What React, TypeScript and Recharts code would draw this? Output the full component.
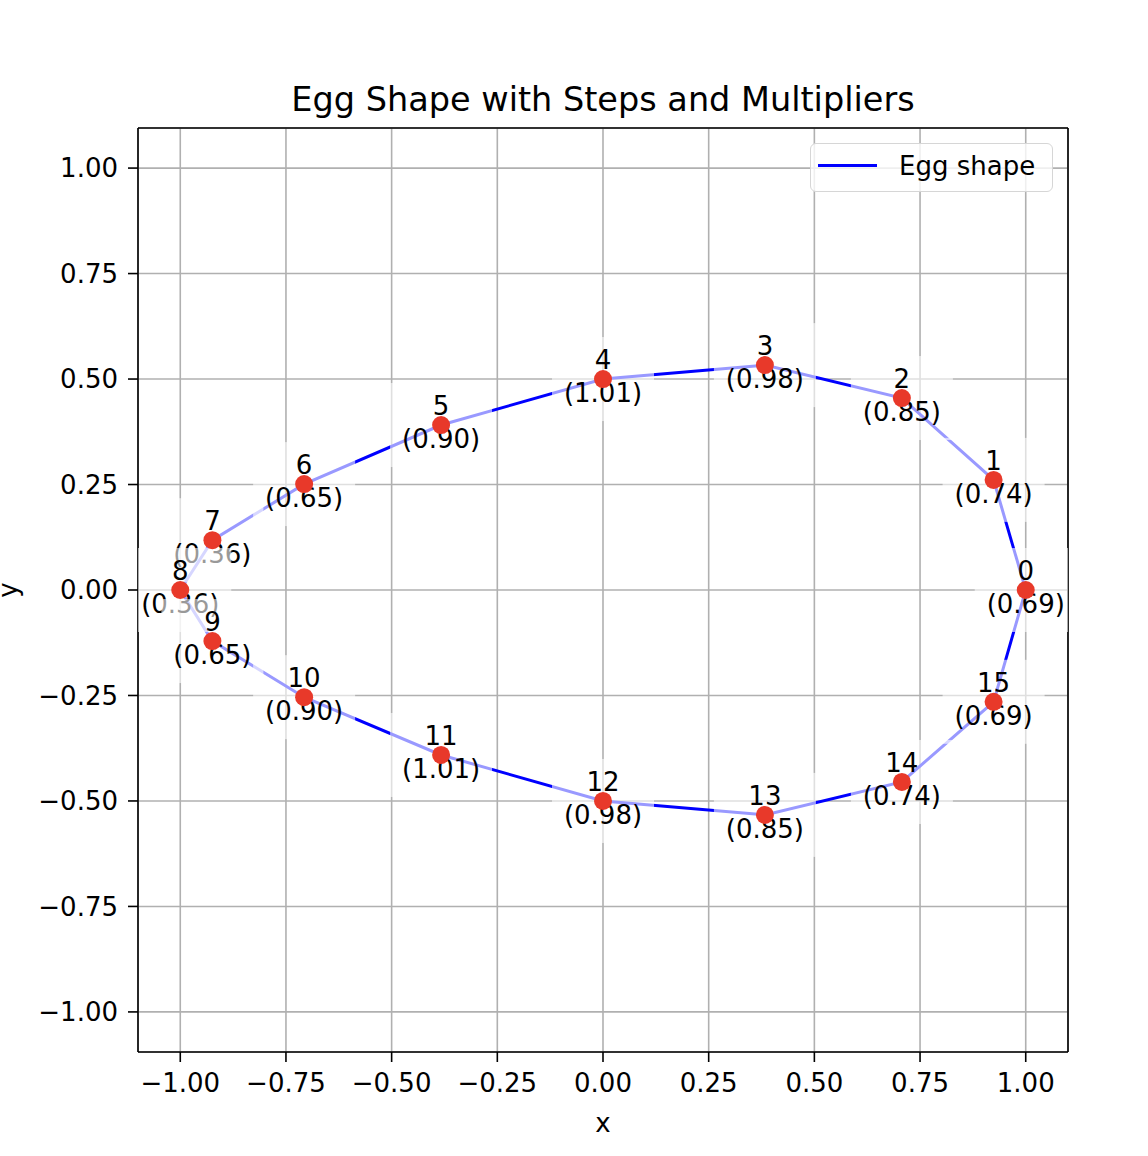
import { ScatterChart, Scatter, XAxis, YAxis, CartesianGrid, ReferenceLine } from "recharts";

// punkte der eiform, index = schritt
const steps = [0, 1, 2, 3, 4, 5, 6, 7, 8, 9, 10, 11, 12, 13, 14, 15];
const xs = [1.0, 0.924, 0.707, 0.383, 0.0, -0.383, -0.707, -0.924, -1.0, -0.924, -0.707, -0.383, 0.0, 0.383, 0.707, 0.924];
const ys = [0.0, 0.261, 0.455, 0.533, 0.5, 0.391, 0.251, 0.118, 0.0, -0.121, -0.254, -0.391, -0.5, -0.533, -0.455, -0.265];
const multipliers = [0.69, 0.74, 0.85, 0.98, 1.01, 0.9, 0.65, 0.36, 0.36, 0.65, 0.9, 1.01, 0.98, 0.85, 0.74, 0.69];
const ticks = [-1.0, -0.75, -0.5, -0.25, 0.0, 0.25, 0.5, 0.75, 1.0];

const X_DOMAIN: [number, number] = [-1.1, 1.1];
const Y_DOMAIN: [number, number] = [-1.095, 1.095];

const FONT = "DejaVu Sans";
const fmt = (v: number) => v.toFixed(2).replace("-", "\u2212");

const points = steps.map((s, i) => ({ step: s, x: xs[i], y: ys[i], m: multipliers[i] }));
// geschlossene kurve: erster punkt nochmal ans ende
const loop = [...points, points[0]];

function LabelShape(props: any) {
  const { cx, cy, payload } = props;
  if (cx == null || cy == null) return <g />;
  return (
    <g>
      <rect x={cx - 51} y={cy - 42} width={102} height={84} fill="#ffffff" fillOpacity={0.6} />
      <text x={cx} y={cy - 19} textAnchor="middle" dominantBaseline="central" fontSize={26} fill="#000">
        {payload.step}
      </text>
      <text x={cx} y={cy + 14} textAnchor="middle" dominantBaseline="central" fontSize={26} fill="#000">
        ({payload.m.toFixed(2)})
      </text>
    </g>
  );
}

function DotShape(props: any) {
  const { cx, cy } = props;
  if (cx == null || cy == null) return <g />;
  return <circle cx={cx} cy={cy} r={9} fill="#e8392a" />;
}

function LegendBox() {
  return (
    <div
      style={{
        position: "absolute",
        left: 810,
        top: 143,
        width: 243,
        height: 49,
        border: "1.6px solid #d6d6d6",
        borderRadius: 6,
        background: "rgba(255,255,255,0.8)",
        boxSizing: "border-box",
        fontFamily: FONT,
        fontSize: 26,
      }}
    >
      <div style={{ position: "absolute", left: 7, top: 20, width: 59, height: 3, background: "#0000ff" }} />
      <div style={{ position: "absolute", left: 88, top: 5, lineHeight: "34px" }}>Egg shape</div>
    </div>
  );
}

export default function App() {
  return (
    <div
      style={{
        position: "absolute",
        left: 0,
        top: 0,
        width: 1148,
        height: 1156,
        background: "#fff",
        fontFamily: FONT,
        overflow: "hidden",
      }}
    >
      <div
        style={{
          position: "absolute",
          left: 103,
          width: 1000,
          top: 80,
          textAlign: "center",
          fontSize: 33.5,
          lineHeight: "40px",
        }}
      >
        Egg Shape with Steps and Multipliers
      </div>
      <div style={{ position: "absolute", left: 583, width: 40, top: 1106, textAlign: "center", fontSize: 26, lineHeight: "34px" }}>
        x
      </div>
      <div
        style={{
          position: "absolute",
          left: -12,
          top: 573,
          width: 40,
          textAlign: "center",
          fontSize: 26,
          lineHeight: "34px",
          transform: "rotate(-90deg)",
        }}
      >
        y
      </div>
      <ScatterChart width={1148} height={1156} margin={{ top: 128, right: 80, left: 0, bottom: 0 }}>
        <CartesianGrid stroke="#b0b0b0" strokeWidth={1.6} />
        <XAxis
          type="number"
          dataKey="x"
          domain={X_DOMAIN}
          ticks={ticks}
          tickFormatter={fmt}
          height={104}
          tickSize={10}
          tickMargin={12}
          allowDataOverflow
          axisLine={{ stroke: "#000", strokeWidth: 1.6 }}
          tickLine={{ stroke: "#000", strokeWidth: 1.6 }}
          tick={{ fill: "#000", fontSize: 26 }}
        />
        <YAxis
          type="number"
          dataKey="y"
          domain={Y_DOMAIN}
          ticks={ticks}
          tickFormatter={fmt}
          width={138}
          tickSize={10}
          tickMargin={10}
          allowDataOverflow
          axisLine={{ stroke: "#000", strokeWidth: 1.6 }}
          tickLine={{ stroke: "#000", strokeWidth: 1.6 }}
          tick={{ fill: "#000", fontSize: 26 }}
        />
        <ReferenceLine y={Y_DOMAIN[1]} stroke="#000" strokeWidth={1.6} />
        <ReferenceLine x={X_DOMAIN[1]} stroke="#000" strokeWidth={1.6} />
        <Scatter
          name="Egg shape"
          data={loop}
          line={{ stroke: "#0000ff", strokeWidth: 3 }}
          shape={() => <g />}
          isAnimationActive={false}
        />
        <Scatter data={points} shape={LabelShape} isAnimationActive={false} />
        <Scatter data={points} shape={DotShape} isAnimationActive={false} />
      </ScatterChart>
      <LegendBox />
    </div>
  );
}
